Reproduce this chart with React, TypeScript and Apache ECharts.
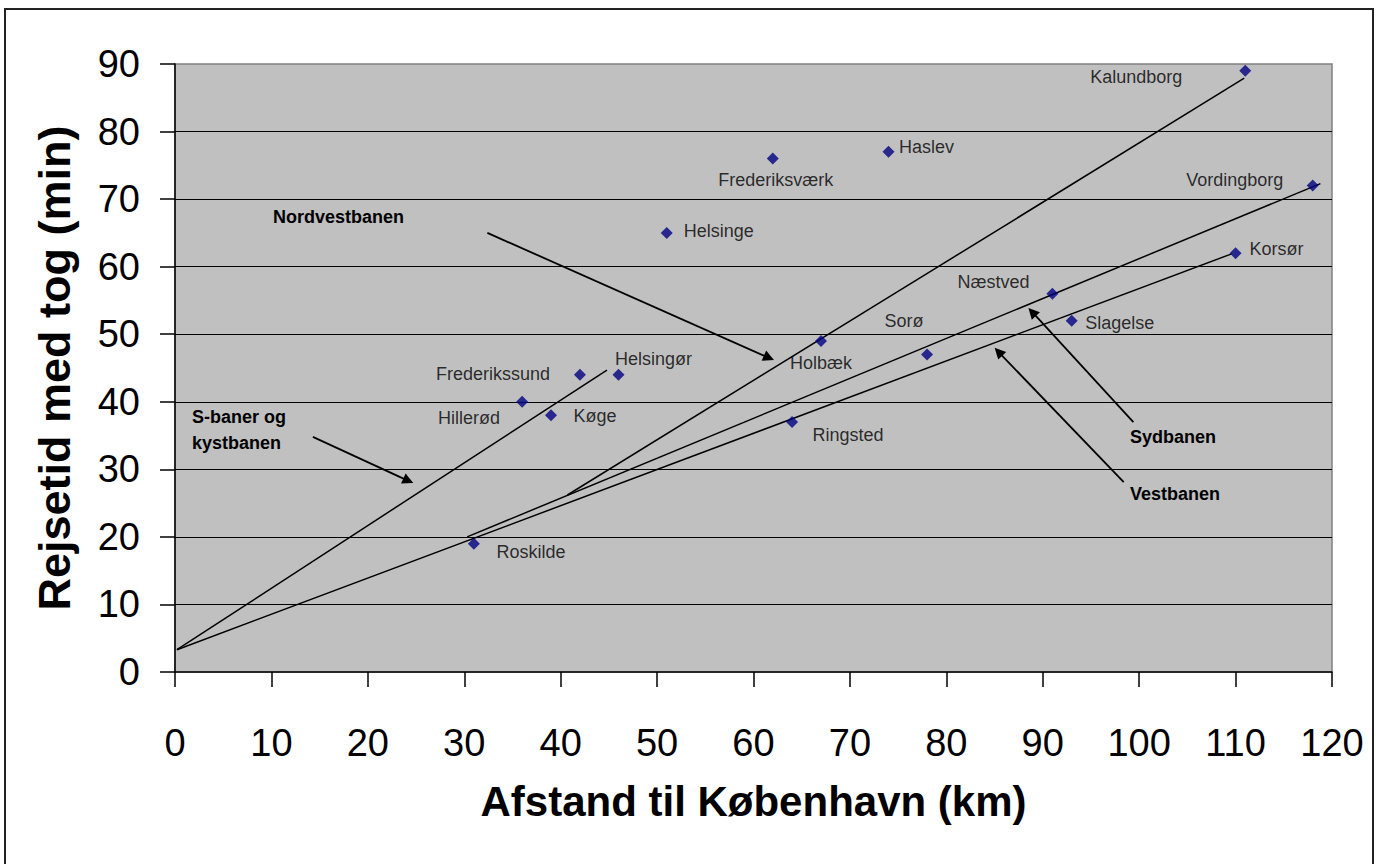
import React, { useEffect, useRef } from "react";
import * as echarts from "echarts";

// ---- data ----
const places = [
  "Kalundborg", "Haslev", "Frederiksværk", "Vordingborg", "Helsinge", "Korsør",
  "Næstved", "Slagelse", "Holbæk", "Sorø", "Frederikssund", "Helsingør",
  "Hillerød", "Køge", "Ringsted", "Roskilde",
];
const distanceKm = [111, 74, 62, 118, 51, 110, 91, 93, 67, 78, 42, 46, 36, 39, 64, 31];
const travelMin = [89, 77, 76, 72, 65, 62, 56, 52, 49, 47, 44, 44, 40, 38, 37, 19];

const xTicks = [0, 10, 20, 30, 40, 50, 60, 70, 80, 90, 100, 110, 120];
const yTicks = [0, 10, 20, 30, 40, 50, 60, 70, 80, 90];

// hand-drawn line endpoints [km, min]
const sBanerLine = [[0.2, 3.3], [44.8, 44.7]];
const vestbanenLine = [[0.2, 3.3], [109.6, 61.9]];
const sydbanenLine = [[30.3, 20.0], [118.8, 72.3]];
const nordvestbanenLine = [[40.7, 26.2], [110.9, 87.9]];

// annotation arrows [from, to] in [km, min]
const arrowNordvest = [[32.4, 65.0], [61.6, 46.5]];
const arrowSBaner = [[14.3, 34.8], [24.2, 28.3]];
const arrowSyd = [[99.4, 37.0], [88.9, 53.3]];
const arrowVest = [[98.4, 28.1], [85.4, 47.4]];

// label offsets (text centre relative to marker, px) - style only
const labelOffsets = [
  [-109, 6], [38, -5], [3, 21], [-78, -6], [52, -2], [41, -4],
  [-59, -12], [48, 2], [0, 22], [-23, -33], [-87, -1], [35, -16],
  [-53, 16], [44, 1], [56, 13], [57, 8],
];

const FONT = "'Liberation Sans', Arial, Helvetica, sans-serif";

export default function App() {
  const ref = useRef<HTMLDivElement>(null);

  useEffect(() => {
    if (!ref.current) return;
    const chart = echarts.init(ref.current, undefined, { renderer: "svg" });

    const pointData = places.map((name, i) => ({
      name,
      value: [distanceKm[i], travelMin[i]],
      label: { offset: labelOffsets[i] },
    }));

    const lineSeries = (data: number[][]) => ({
      type: "line",
      data,
      symbol: "none",
      silent: true,
      lineStyle: { color: "#000", width: 1.5 },
      z: 3,
    });

    const arrows = [arrowNordvest, arrowSBaner, arrowSyd, arrowVest];

    const boldText = (text: string, x: number, y: number) => ({
      type: "text",
      x,
      y,
      style: {
        text,
        font: `bold 18px ${FONT}`,
        fill: "#000",
        lineHeight: 26,
        verticalAlign: "middle",
      },
      z: 10,
    });

    chart.setOption({
      animation: false,
      backgroundColor: "#ffffff",
      grid: {
        left: 175,
        right: 44,
        top: 64,
        bottom: 192,
        show: true,
        backgroundColor: "#c0c0c0",
        borderColor: "#808080",
        borderWidth: 1.5,
      },
      xAxis: {
        type: "value",
        min: 0,
        max: 120,
        interval: 10,
        name: "Afstand til København (km)",
        nameLocation: "middle",
        nameGap: 108,
        nameTextStyle: { fontFamily: FONT, fontSize: 42, fontWeight: "bold", color: "#000" },
        axisLine: { show: true, lineStyle: { color: "#000", width: 1.5 } },
        axisTick: { show: true, length: 15, lineStyle: { color: "#000", width: 1.5 } },
        axisLabel: {
          margin: 52,
          fontFamily: FONT,
          fontSize: 38,
          color: "#000",
          formatter: (v: number) => (xTicks.includes(v) ? String(v) : ""),
        },
        splitLine: { show: false },
      },
      yAxis: {
        type: "value",
        min: 0,
        max: 90,
        interval: 10,
        name: "Rejsetid med tog (min)",
        nameLocation: "middle",
        nameGap: 98,
        nameRotate: 90,
        nameTextStyle: { fontFamily: FONT, fontSize: 45, fontWeight: "bold", color: "#000" },
        axisLine: { show: true, lineStyle: { color: "#000", width: 1.5 } },
        axisTick: { show: true, length: 15, lineStyle: { color: "#000", width: 1.5 } },
        axisLabel: {
          margin: 35,
          fontFamily: FONT,
          fontSize: 38,
          color: "#000",
          formatter: (v: number) => (yTicks.includes(v) ? String(v) : ""),
        },
        splitLine: {
          show: true,
          showMinLine: false,
          showMaxLine: false,
          lineStyle: { color: "#000", width: 1.2 },
        },
      },
      series: [
        lineSeries(sBanerLine),
        lineSeries(vestbanenLine),
        lineSeries(sydbanenLine),
        lineSeries(nordvestbanenLine),
        {
          type: "lines",
          coordinateSystem: "cartesian2d",
          silent: true,
          symbol: ["none", "triangle"],
          symbolSize: [0, 11],
          lineStyle: { color: "#000", width: 1.8, opacity: 1 },
          data: arrows.map((a) => ({ coords: a })),
          z: 3,
        },
        {
          type: "scatter",
          data: pointData,
          symbol: "diamond",
          symbolSize: 12,
          itemStyle: { color: "#000080" },
          z: 5,
          label: {
            show: true,
            position: "inside",
            formatter: "{b}",
            fontFamily: FONT,
            fontSize: 18,
            color: "#000",
            align: "center",
            verticalAlign: "middle",
          },
        },
      ],
      graphic: [
        {
          type: "rect",
          shape: { x: 5, y: 9, width: 1368, height: 900 },
          style: { fill: "none", stroke: "#222", lineWidth: 2 },
          silent: true,
          z: 10,
        },
        boldText("Nordvestbanen", 273, 217),
        boldText("S-baner og\nkystbanen", 192, 430),
        boldText("Sydbanen", 1130, 437),
        boldText("Vestbanen", 1130, 494),
      ],
    });

    return () => chart.dispose();
  }, []);

  return (
    <div
      ref={ref}
      style={{ position: "fixed", left: 0, top: 0, width: 1376, height: 864 }}
    />
  );
}
